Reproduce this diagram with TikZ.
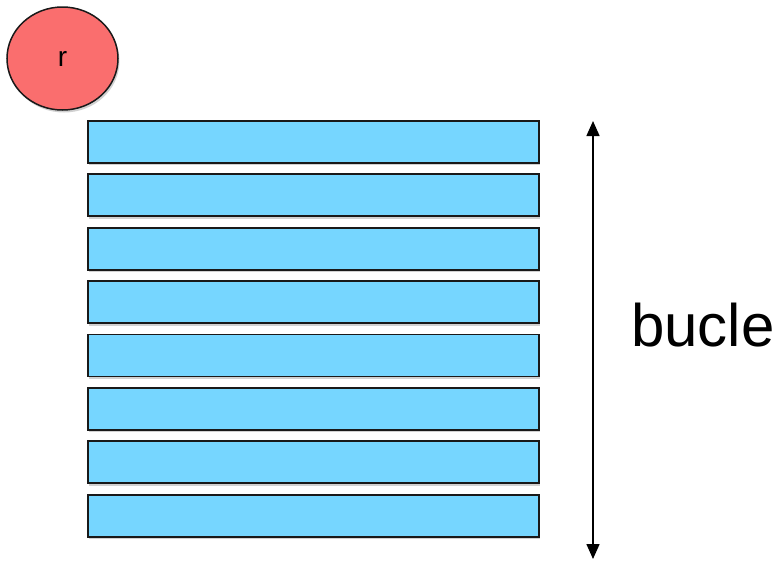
\documentclass[tikz,border=0pt]{standalone}
\usepackage{fontspec}
\setmainfont{Liberation Sans}
\usetikzlibrary{shapes.geometric,arrows.meta,shadows}
\definecolor{barblue}{RGB}{118,214,255}
\definecolor{salmon}{RGB}{250,110,110}
\begin{document}
\begin{tikzpicture}[x=1pt,y=-1pt,
  bar/.style={draw=black!90, line width=1.8pt, fill=barblue, minimum width=451pt, minimum height=42pt, inner sep=0pt, anchor=north west,
    drop shadow={shadow xshift=1.5pt, shadow yshift=-2.5pt, fill=black!40, opacity=0.45}},
  rnode/.style={ellipse, draw=black!90, line width=1.5pt, fill=salmon, minimum width=111pt, minimum height=103pt, inner sep=0pt,
    drop shadow={shadow xshift=1.5pt, shadow yshift=-2.5pt, fill=black!40, opacity=0.45}, font=\fontsize{28}{30}\selectfont}]
\useasboundingbox (0,0) rectangle (781,560);
\node[rnode] (r) at (62.5,58.5) {r};
\foreach \i/\y in {1/120,2/173.4,3/226.8,4/280.2,5/333.6,6/387,7/440.4,8/493.8}{
  \node[bar] (b\i) at (87,\y) {};
}
\coordinate (atop) at (593,121);
\coordinate (abot) at (593,559);
\draw[line width=1.5pt, {Triangle[length=15pt,width=13pt]}-{Triangle[length=15pt,width=13pt]}] (atop) -- (abot);
\node[anchor=base west, inner sep=0pt, font=\fontsize{60}{70}\selectfont] (lbl) at (631,346) {bucle};
\end{tikzpicture}
\end{document}
